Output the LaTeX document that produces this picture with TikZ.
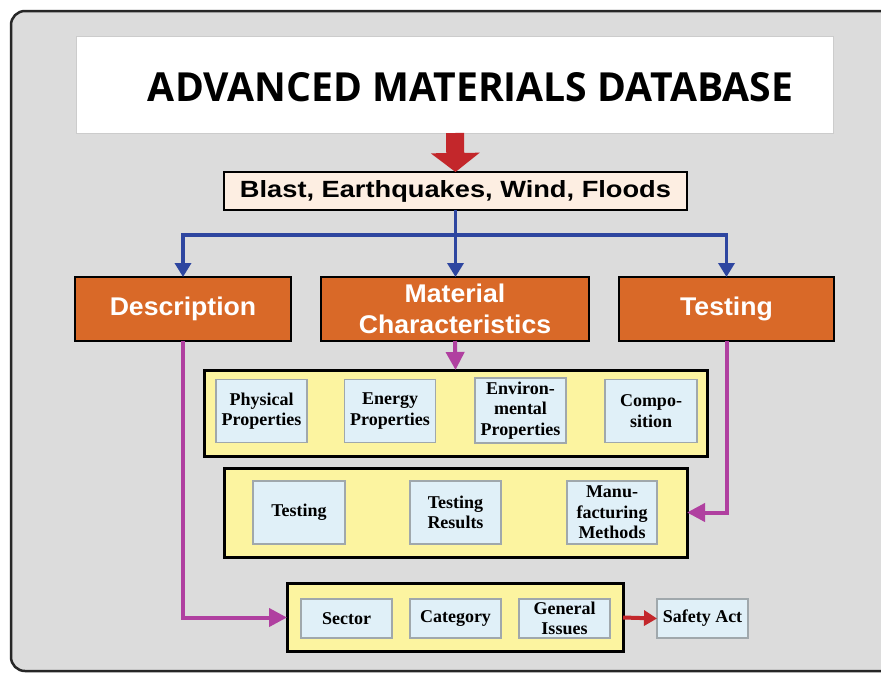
\documentclass[tikz,border=0pt]{standalone}
\usepackage{fontspec}
\usepackage{graphicx}
\usetikzlibrary{arrows.meta,calc}
\newfontfamily\titlefont{Open Sans}
\newfontfamily\arialfont{Liberation Sans}
\newfontfamily\arialwide{Liberation Sans}[FakeStretch=1.04]
\newfontfamily\timesfont{Liberation Serif}
\definecolor{framegray}{RGB}{220,220,220}
\definecolor{arrowred}{RGB}{195,39,43}
\definecolor{peach}{RGB}{253,238,226}
\definecolor{linkblue}{RGB}{46,70,160}
\definecolor{boxorange}{RGB}{217,105,40}
\definecolor{linkmag}{RGB}{176,64,160}
\definecolor{boxyellow}{RGB}{252,244,160}
\definecolor{cellblue}{RGB}{224,240,248}
\definecolor{cellborder}{RGB}{160,168,172}
\tikzset{
  titlebox/.style={draw=black!20, fill=white, line width=1pt, minimum width=757pt, minimum height=97pt, inner sep=0pt, outer sep=0pt},
  hazard/.style={draw=black, fill=peach, line width=2.5pt, minimum width=463pt, minimum height=38pt, inner sep=0pt, outer sep=0pt},
  topic/.style={draw=black, fill=boxorange, line width=2.5pt, minimum height=64pt, text=white, inner sep=0pt, outer sep=0pt,
    font=\arialwide\bfseries\fontsize{25.6pt}{31pt}\selectfont, align=center},
  group/.style={draw=black, fill=boxyellow, line width=3pt, inner sep=0pt, outer sep=0pt},
  cell/.style={draw=cellborder, fill=cellblue, line width=1.2pt, minimum width=91pt, minimum height=63pt, inner sep=0pt, outer sep=0pt,
    font=\timesfont\bfseries\fontsize{18pt}{20.5pt}\selectfont, align=center},
  bluelink/.style={draw=linkblue, line width=3.5pt, -{Triangle[length=14pt,width=16pt]}},
  maglink/.style={draw=linkmag, line width=4pt, -{Triangle[length=18pt,width=18pt]}},
  redlink/.style={draw=arrowred, line width=4pt, -{Triangle[length=13pt,width=15pt]}},
  bigred/.style={draw=arrowred, line width=18pt, -{Triangle[length=19pt,width=48pt]}}
}
\begin{document}
\begin{tikzpicture}[x=1pt,y=-1pt]
\useasboundingbox (0,0) rectangle (881,675);
\clip (0,0) rectangle (881,675);
\fill[white] (0,0) rectangle (881,675);
\draw[draw=black!85, fill=framegray, line width=2.5pt, rounded corners=14pt] (11,11) rectangle (910,671);

\node[titlebox] (title) at (455,84.5) {\hspace*{31pt}\rule{0pt}{34pt}\resizebox{645pt}{29pt}{\titlefont\bfseries ADVANCED MATERIALS DATABASE}};
\node[hazard] (blast) at (455.5,191) {\resizebox{431pt}{17pt}{\arialfont\bfseries Blast, Earthquakes, Wind, Floods}};

\node[topic, minimum width=216pt] (desc) at (183,309) {Description};
\node[topic, minimum width=268pt] (mat) at (455,309) {Material\\Characteristics};
\node[topic, minimum width=215pt] (test) at (726.5,309) {Testing};

\node[group, minimum width=503pt, minimum height=86pt] (props) at (455.5,413) {};
\node[group, minimum width=463pt, minimum height=89pt] (methods) at (455.5,512.5) {};
\node[group, minimum width=336pt, minimum height=68pt] (issues) at (455,617.5) {};

\node[cell] (phys) at (261.5,411) {Physical\\Properties};
\node[cell] (energy) at (390,411) {Energy\\Properties};
\node[cell, minimum height=65pt] (env) at (520.5,410.5) {Environ-\\mental\\Properties};
\node[cell, minimum width=92pt] (comp) at (651,411) {Compo-\\sition};

\node[cell, minimum width=92pt] (testcell) at (299,512.5) {Testing};
\node[cell] (results) at (455.5,512.5) {Testing\\Results};
\node[cell, minimum width=90pt] (manu) at (612,512.5) {Manu-\\facturing\\Methods};

\node[cell, minimum height=39pt] (sector) at (346.5,618.5) {Sector};
\node[cell, minimum height=39pt] (category) at (455.5,618.5) {Category};
\node[cell, minimum height=39pt] (general) at (564.5,618.5) {General\\Issues};
\node[cell, minimum height=39pt] (safety) at (702.5,618.5) {Safety Act};

\draw[bigred] (title.south) -- (blast.north);

\coordinate (bj) at ($(blast.south)+(0,25)$);
\draw[linkblue, line width=3.5pt] (blast.south) -- (bj);
\draw[bluelink] (bj) -| (desc.north);
\draw[bluelink] (bj) -| (test.north);
\draw[bluelink] (bj) -- (bj |- mat.north);

\draw[maglink] (mat.south) -- (props.north);
\draw[maglink] (desc.south) |- (issues.west);
\draw[maglink] (test.south) |- (methods.east);
\draw[redlink] (issues.east) -- (safety.west);
\end{tikzpicture}
\end{document}
